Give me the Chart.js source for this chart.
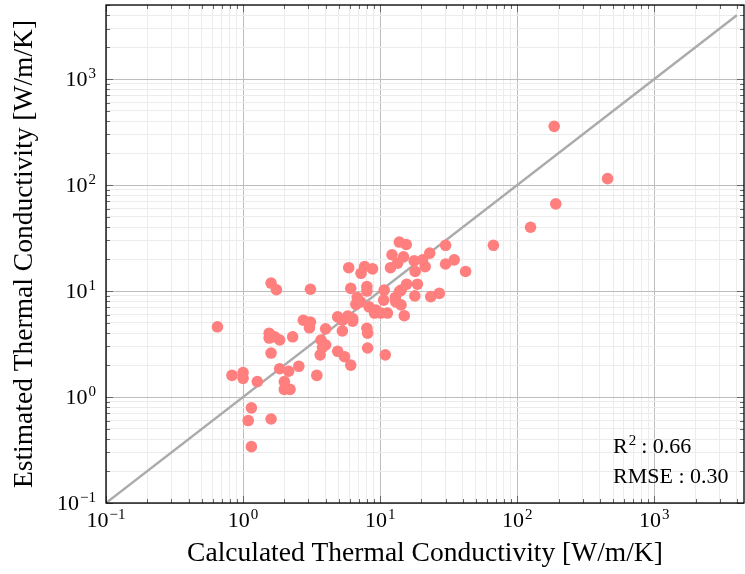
<!DOCTYPE html>
<html>
<head>
<meta charset="utf-8">
<script src="https://cdn.jsdelivr.net/npm/chart.js@4.4.1/dist/chart.umd.min.js"></script>
<style>
  body { margin: 0; background: #fff; }
  #wrap { width: 745px; height: 574px; }
</style>
</head>
<body>
<div id="wrap"><canvas id="myChart"></canvas></div>
<script>
// thermal conductivity, W/m/K : calculated (x) vs estimated (y)
var calculated = [0.65, 0.83, 1.0, 1.0, 1.27, 1.15, 1.09, 1.6, 1.15, 1.6,
    1.75, 3.1, 2.75, 3.1, 3.05, 4.0, 1.55, 1.55, 1.7, 1.85,
    2.3, 1.6, 1.85, 2.15, 2.55, 2.0, 2.0, 2.2, 3.45, 3.7,
    3.65, 4.0, 3.8, 4.9, 5.5, 6.1, 4.9, 13.8, 15.5, 12.2,
    14.8, 23, 17.7, 20.4, 21.3, 30, 30, 18, 11.9, 5.9,
    7.7, 8.8, 7.25, 6.1, 8.0, 8.0, 10.7, 10.6, 15.6, 14.2,
    18.7, 17.9, 23.4, 27, 13, 14.2, 15, 12.9, 6.8, 7.2,
    6.65, 8.3, 9.3, 10.1, 11.3, 9.1, 5.8, 5.3, 6.3, 5.3,
    8.0, 8.1, 8.1, 10.9, 13.4, 34.7, 42, 67, 125, 186,
    456, 191, 13.8, 6.3];
var estimated = [4.6, 1.6, 1.7, 1.5, 1.4, 0.79, 0.6, 0.62, 0.34, 11.9,
    10.3, 10.4, 5.3, 5.1, 4.5, 4.4, 4.0, 3.6, 3.7, 3.45,
    3.7, 2.6, 1.85, 1.75, 1.95, 1.4, 1.18, 1.18, 1.6, 3.45,
    2.5, 3.1, 2.95, 2.7, 2.4, 2.0, 5.7, 29, 27.5, 22,
    21, 22.8, 19.3, 19.7, 17, 18, 27, 15.3, 16.6, 16.6,
    17, 16.2, 14.7, 10.6, 11.0, 10.0, 10.2, 8.2, 11.6, 10.2,
    11.6, 9.0, 8.85, 9.5, 7.9, 7.4, 5.85, 8.7, 8.7, 7.9,
    7.5, 7.1, 6.6, 6.2, 6.2, 6.2, 5.8, 5.3, 5.2, 4.2,
    4.45, 4.0, 2.9, 2.5, 18.3, 19.7, 15.3, 27, 40, 358,
    115, 66.5, 9.9, 5.5];
var parityLine = [0.1, 4000];
var decades = [-1, 0, 1, 2, 3];
var r2Text = '0.66';
var rmseText = '0.30';

var serif = "'Liberation Serif', 'DejaVu Serif', serif";

function isDecade(v) {
    var l = Math.log10(v);
    return Math.abs(l - Math.round(l)) < 1e-9;
}

function logTicks(scale) {
    var t = [];
    for (var e = -2; e <= 4; e++) {
        for (var m = 1; m <= 9; m++) {
            var v = m * Math.pow(10, e);
            if (v >= scale.min * 0.999 && v <= scale.max) t.push({ value: v });
        }
    }
    scale.ticks = t;
}

function gridColor(c) {
    return c.tick && isDecade(c.tick.value) ? '#bdbdbd' : '#ececec';
}

// power of ten with a raised exponent
function powLabel(ctx, exp, x, y, align) {
    ctx.font = '22px ' + serif;
    var wb = ctx.measureText('10').width;
    ctx.font = '15px ' + serif;
    var es = exp < 0 ? '\u2212' + (-exp) : String(exp);
    var we = ctx.measureText(es).width;
    var w = wb + we + 1;
    var x0 = align === 'right' ? x - w : x - w / 2;
    ctx.textAlign = 'left';
    ctx.textBaseline = 'alphabetic';
    ctx.font = '22px ' + serif;
    ctx.fillText('10', x0, y);
    ctx.font = '15px ' + serif;
    ctx.fillText(es, x0 + wb + 1, y - 8);
}

var framePlugin = {
    id: 'framePlugin',
    afterDraw: function (chart) {
        var ctx = chart.ctx, a = chart.chartArea;
        var xs = chart.scales.x, ys = chart.scales.y;
        ctx.save();
        ctx.strokeStyle = '#666';
        ctx.lineWidth = 1;
        ctx.beginPath();
        xs.ticks.forEach(function (t) {
            var len = isDecade(t.value) ? 7 : 4;
            var p = Math.round(xs.getPixelForValue(t.value)) + 0.5;
            ctx.moveTo(p, a.bottom); ctx.lineTo(p, a.bottom - len);
            ctx.moveTo(p, a.top); ctx.lineTo(p, a.top + len);
        });
        ys.ticks.forEach(function (t) {
            var len = isDecade(t.value) ? 7 : 4;
            var p = Math.round(ys.getPixelForValue(t.value)) + 0.5;
            ctx.moveTo(a.left, p); ctx.lineTo(a.left + len, p);
            ctx.moveTo(a.right, p); ctx.lineTo(a.right - len, p);
        });
        ctx.stroke();

        ctx.strokeStyle = '#000';
        ctx.lineWidth = 1.3;
        ctx.strokeRect(a.left, a.top, a.right - a.left, a.bottom - a.top);

        ctx.fillStyle = '#000';
        decades.forEach(function (e) {
            var v = Math.pow(10, e);
            if (v <= xs.max) powLabel(ctx, e, xs.getPixelForValue(v), a.bottom + 24, 'center');
            if (v <= ys.max) powLabel(ctx, e, a.left - 10, ys.getPixelForValue(v) + 7, 'right');
        });

        // metrics box, lower right
        ctx.textAlign = 'left';
        ctx.font = '22px ' + serif;
        ctx.fillText('R', 613, 453);
        var wr = ctx.measureText('R').width;
        ctx.font = '15px ' + serif;
        ctx.fillText('2', 613 + wr + 1, 445);
        ctx.font = '22px ' + serif;
        ctx.fillText(' : ' + r2Text, 613 + wr + 8, 453);
        ctx.fillText('RMSE : ' + rmseText, 613, 483);
        ctx.restore();
    }
};

var points = calculated.map(function (c, i) { return { x: c, y: estimated[i] }; });

var ctx = document.getElementById('myChart').getContext('2d');
window.myChart = new Chart(ctx, {
    type: 'scatter',
    data: {
        datasets: [
            {
                label: 'samples',
                data: points,
                backgroundColor: '#ff7f7f',
                borderWidth: 0,
                pointRadius: 5.8,
                order: 0
            },
            {
                type: 'line',
                label: 'parity',
                data: parityLine.map(function (v) { return { x: v, y: v }; }),
                borderColor: '#ababab',
                borderWidth: 2.4,
                pointRadius: 0,
                fill: false,
                order: 1
            }
        ]
    },
    options: {
        responsive: true,
        maintainAspectRatio: false,
        animation: false,
        layout: { autoPadding: false, padding: { top: 5, right: 1, left: 0, bottom: 0 } },
        plugins: {
            legend: { display: false },
            tooltip: { enabled: false }
        },
        scales: {
            x: {
                type: 'logarithmic',
                min: 0.1,
                max: 4510,
                afterBuildTicks: logTicks,
                afterFit: function (s) { s.height = 71; },
                grid: { color: gridColor, drawTicks: false, lineWidth: 1 },
                border: { display: false },
                ticks: { display: false, autoSkip: false },
                title: {
                    display: true,
                    text: 'Calculated Thermal Conductivity [W/m/K]',
                    color: '#000',
                    font: { family: serif, size: 27.5 },
                    padding: { top: 0, bottom: 4 }
                }
            },
            y: {
                type: 'logarithmic',
                min: 0.1,
                max: 5000,
                afterBuildTicks: logTicks,
                afterFit: function (s) { s.width = 106; },
                grid: { color: gridColor, drawTicks: false, lineWidth: 1 },
                border: { display: false },
                ticks: { display: false, autoSkip: false },
                title: {
                    display: true,
                    text: 'Estimated Thermal Conductivity [W/m/K]',
                    color: '#000',
                    font: { family: serif, size: 27.5 },
                    padding: { top: 8, bottom: 0 }
                }
            }
        }
    },
    plugins: [framePlugin]
});
</script>
</body>
</html>
